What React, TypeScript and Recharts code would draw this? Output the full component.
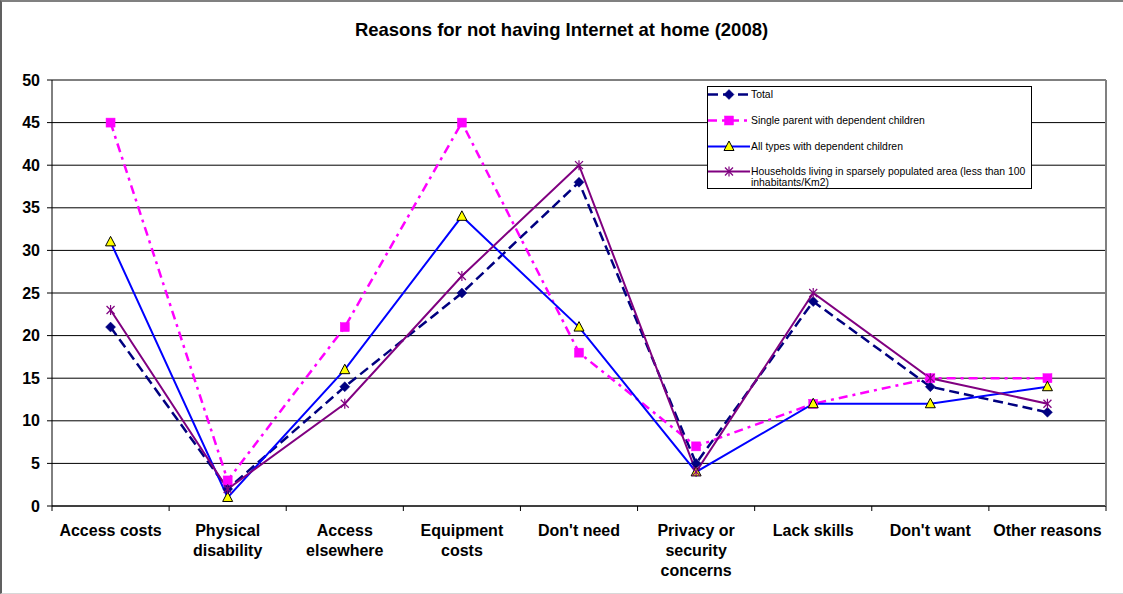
import React from 'react';
import { LineChart, Line, XAxis, YAxis, CartesianGrid, Legend, Text } from 'recharts';

const categories = [
  'Access costs',
  'Physical disability',
  'Access elsewhere',
  'Equipment costs',
  "Don't need",
  'Privacy or security concerns',
  'Lack skills',
  "Don't want",
  'Other reasons',
];
const totalValues = [21, 2, 14, 25, 38, 5, 24, 14, 11];
const singleParentValues = [45, 3, 21, 45, 18, 7, 12, 15, 15];
const allTypesValues = [31, 1, 16, 34, 21, 4, 12, 12, 14];
const sparseValues = [23, 2, 12, 27, 40, 4, 25, 15, 12];
const yTicks = [0, 5, 10, 15, 20, 25, 30, 35, 40, 45, 50];

const titleText = 'Reasons for not having Internet at home (2008)';
const seriesNames = {
  total: 'Total',
  single: 'Single parent with dependent children',
  allTypes: 'All types with dependent children',
  sparse: 'Households living in sparsely populated area (less than 100 inhabitants/Km2)',
};

const data = categories.map((c, i) => ({
  category: c,
  total: totalValues[i],
  single: singleParentValues[i],
  allTypes: allTypesValues[i],
  sparse: sparseValues[i],
}));

const FONT = '"Liberation Sans", Arial, sans-serif';
const W = 1123;
const H = 594;
const MARGIN = { top: 80, right: 0, bottom: 0, left: 0 };
const Y_AXIS_W = 52;
const RIGHT_AXIS_W = 17;
const X_AXIS_H = 88;
const PLOT_LEFT = MARGIN.left + Y_AXIS_W;
const PLOT_RIGHT = W - MARGIN.right - RIGHT_AXIS_W;
const STEP = (PLOT_RIGHT - PLOT_LEFT) / categories.length;
const HALF = STEP / 2;

const NAVY = '#000080';
const MAGENTA = '#FF00FF';
const BLUE = '#0000FF';
const PURPLE = '#800080';

const DASH_TOTAL = '10 5';
const DASH_SINGLE = '9 5 3 5';

type MarkerKind = 'diamond' | 'square' | 'triangle' | 'star';

function Marker({ kind, cx, cy }: { kind: MarkerKind; cx: number; cy: number }) {
  if (kind === 'diamond') {
    return <path d={`M${cx},${cy - 5} L${cx + 5},${cy} L${cx},${cy + 5} L${cx - 5},${cy} Z`} fill={NAVY} stroke={NAVY} strokeWidth={0.5} />;
  }
  if (kind === 'square') {
    return <rect x={cx - 4.5} y={cy - 4.5} width={9} height={9} fill={MAGENTA} stroke={MAGENTA} strokeWidth={0.5} />;
  }
  if (kind === 'triangle') {
    return <path d={`M${cx},${cy - 5.5} L${cx + 5},${cy + 4} L${cx - 5},${cy + 4} Z`} fill="#FFFF00" stroke="#000" strokeWidth={1} />;
  }
  return (
    <g stroke={PURPLE} strokeWidth={1.2}>
      <line x1={cx - 4} y1={cy - 4} x2={cx + 4} y2={cy + 4} />
      <line x1={cx - 4} y1={cy + 4} x2={cx + 4} y2={cy - 4} />
      <line x1={cx} y1={cy - 5} x2={cx} y2={cy + 5} />
    </g>
  );
}

const makeDot = (kind: MarkerKind) => (props: any) => {
  const { cx, cy, index } = props;
  if (cx == null || cy == null) return <g key={`${kind}-${index}`} />;
  return (
    <g key={`${kind}-${index}`}>
      <Marker kind={kind} cx={cx} cy={cy} />
    </g>
  );
};

const seriesConfig: { key: keyof typeof seriesNames; color: string; dash?: string; width: number; marker: MarkerKind }[] = [
  { key: 'total', color: NAVY, dash: DASH_TOTAL, width: 2.5, marker: 'diamond' },
  { key: 'single', color: MAGENTA, dash: DASH_SINGLE, width: 2.5, marker: 'square' },
  { key: 'allTypes', color: BLUE, width: 2, marker: 'triangle' },
  { key: 'sparse', color: PURPLE, width: 2, marker: 'star' },
];

const legendRowTops = [2, 28, 53.5, 79];

function LegendBox() {
  return (
    <div
      style={{
        position: 'relative',
        width: 325,
        height: 103,
        border: '1px solid #000',
        boxSizing: 'border-box',
        background: '#fff',
        fontFamily: FONT,
        fontSize: 10.4,
        lineHeight: '11px',
        color: '#000',
      }}
    >
      {seriesConfig.map((s, i) => (
        <div key={s.key} style={{ position: 'absolute', left: 0, top: legendRowTops[i], width: 325 }}>
          <svg width={42} height={11} style={{ position: 'absolute', left: 0, top: 0, overflow: 'visible' }}>
            <line x1={0} y1={5.5} x2={42} y2={5.5} stroke={s.color} strokeWidth={s.width} strokeDasharray={s.dash} />
            <Marker kind={s.marker} cx={21} cy={5.5} />
          </svg>
          <div style={{ position: 'absolute', left: 43, top: 0, width: 284, whiteSpace: 'normal' }}>{seriesNames[s.key]}</div>
        </div>
      ))}
    </div>
  );
}

function CategoryTick(props: any) {
  const { x, y, payload, index } = props;
  const tickTop = y - 5;
  return (
    <g>
      <line x1={x - HALF} y1={tickTop} x2={x - HALF} y2={tickTop + 5} stroke="#000" strokeWidth={1} />
      {index === categories.length - 1 && (
        <line x1={x + HALF} y1={tickTop} x2={x + HALF} y2={tickTop + 5} stroke="#000" strokeWidth={1} />
      )}
      <Text
        x={x}
        y={y + 14}
        width={120}
        textAnchor="middle"
        verticalAnchor="start"
        lineHeight={20}
        style={{ fontFamily: FONT, fontWeight: 'bold', fontSize: 16 }}
        fill="#000"
      >
        {payload.value}
      </Text>
    </g>
  );
}

export default function App() {
  return (
    <div
      style={{
        position: 'absolute',
        left: 0,
        top: 0,
        width: W,
        height: H,
        background: '#fff',
        overflow: 'hidden',
      }}
    >
      <div
        style={{
          position: 'absolute',
          left: 0,
          top: 0,
          width: W,
          height: H,
          boxSizing: 'border-box',
          borderTop: '2px solid #808080',
          borderLeft: '2px solid #606060',
          borderBottom: '1px solid #d8d8d8',
          pointerEvents: 'none',
          zIndex: 2,
        }}
      />
      <div
        style={{
          position: 'absolute',
          left: 0,
          top: 20,
          width: W,
          textAlign: 'center',
          fontFamily: FONT,
          fontWeight: 'bold',
          fontSize: 18.5,
          lineHeight: '20px',
          color: '#000',
          zIndex: 1,
        }}
      >
        {titleText}
      </div>
      <LineChart width={W} height={H} data={data} margin={MARGIN} style={{ fontFamily: FONT }}>
        <CartesianGrid yAxisId="left" vertical={false} stroke="#000" strokeWidth={1} />
        <XAxis
          dataKey="category"
          height={X_AXIS_H}
          padding={{ left: HALF, right: HALF }}
          interval={0}
          tickLine={false}
          tickSize={5}
          tickMargin={0}
          axisLine={{ stroke: '#000', strokeWidth: 1 }}
          tick={<CategoryTick />}
        />
        <YAxis
          yAxisId="left"
          width={Y_AXIS_W}
          domain={[0, 50]}
          ticks={yTicks}
          interval={0}
          tickSize={5}
          tickMargin={7}
          axisLine={{ stroke: '#000', strokeWidth: 1 }}
          tickLine={{ stroke: '#000', strokeWidth: 1 }}
          tick={{ fill: '#000', fontFamily: FONT, fontWeight: 'bold', fontSize: 16 }}
        />
        <YAxis
          yAxisId="right"
          orientation="right"
          width={RIGHT_AXIS_W}
          domain={[0, 50]}
          tick={false}
          tickLine={false}
          axisLine={{ stroke: '#808080', strokeWidth: 2 }}
        />
        {seriesConfig.map((s) => (
          <Line
            key={s.key}
            yAxisId="left"
            type="linear"
            dataKey={s.key}
            name={seriesNames[s.key]}
            stroke={s.color}
            strokeWidth={s.width}
            strokeDasharray={s.dash}
            dot={makeDot(s.marker)}
            activeDot={false}
            isAnimationActive={false}
          />
        ))}
        <Legend
          layout="vertical"
          align="center"
          verticalAlign="middle"
          wrapperStyle={{ position: 'absolute', left: 707, top: 86, width: 325, height: 103 }}
          content={() => <LegendBox />}
        />
      </LineChart>
    </div>
  );
}
